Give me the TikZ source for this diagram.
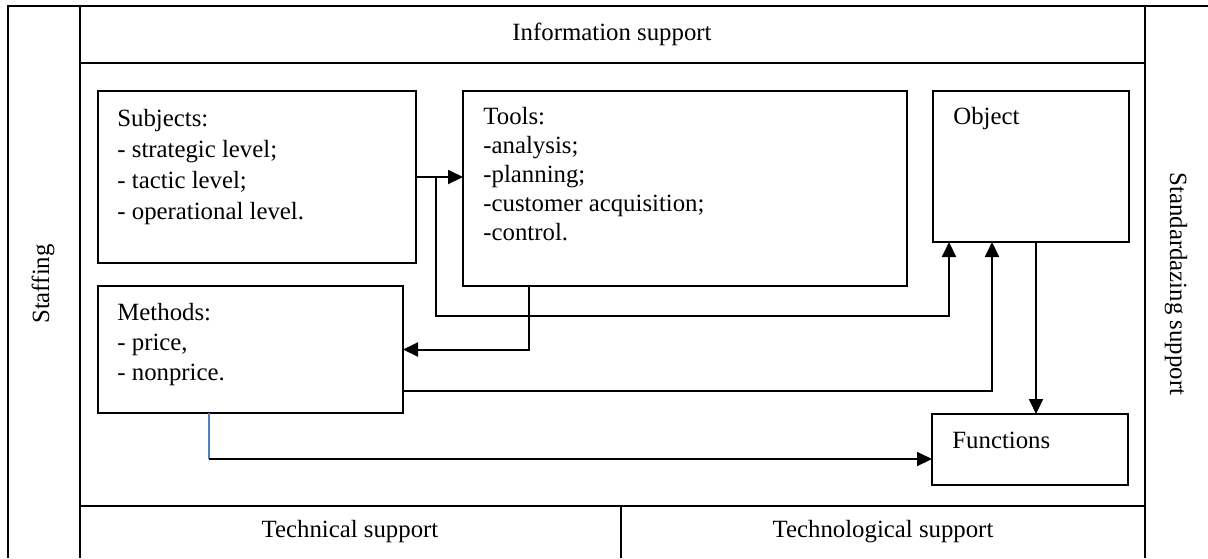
\documentclass[tikz,border=0pt]{standalone}
\usepackage{fontspec}
\setmainfont{Liberation Serif}
\usetikzlibrary{calc,fit,arrows.meta}
\definecolor{wordblue}{RGB}{79,129,189}

\begin{document}
\begin{tikzpicture}[x=0.5pt,y=-0.5pt,font=\fontsize{12.4}{15}\selectfont,
  box/.style={draw,line width=0.8pt,inner sep=0pt,outer sep=0pt},
  txt/.style={anchor=base west,align=left,inner sep=0pt},
  arr/.style={line width=1pt,-{Triangle[length=7.5pt,width=7pt]}}]

\useasboundingbox (0,0) rectangle (1208,558);

% table frame
\draw[line width=1pt] (8,558) -- (8,6) -- (1208,6);
\draw[line width=1pt] (1145,6) -- (1145,558);
\draw[line width=0.8pt] (80,6) -- (80,558);
\draw[line width=0.8pt] (80,63) -- (1145,63);
\draw[line width=0.8pt] (80,506) -- (1145,506);
\draw[line width=0.8pt] (621,506) -- (621,558);

\node (info) at (612,34) {Information support};
\node[rotate=90] (staff) at (43,284) {Staffing};
\node[rotate=-90] (std) at (1176,284) {Standardazing support};
\node (tech) at (350,532) {Technical support};
\node (techno) at (883,532) {Technological support};

% boxes
\node[box,fit={(98,91) (416,263)}] (subj) {};
\node[box,fit={(463,91) (907,286)}] (tools) {};
\node[box,fit={(933,91) (1129,242)}] (obj) {};
\node[box,fit={(98,286) (403,413)}] (meth) {};
\node[box,fit={(932,414) (1128,485)}] (func) {};

% base of a multi-line text is its last line
\node[txt,font=\fontsize{12.4}{15.5}\selectfont] (subjt) at ($(subj.north west)+(19,128)$)
  {Subjects:\\- strategic level;\\- tactic level;\\- operational level.};
\node[txt,font=\fontsize{12.4}{14.5}\selectfont] (toolst) at ($(tools.north west)+(20,149)$)
  {Tools:\\-analysis;\\-planning;\\-customer acquisition;\\-control.};
\node[txt] (objt) at ($(obj.north west)+(20,33)$) {Object};
\node[txt] (metht) at ($(meth.north west)+(19,94)$) {Methods:\\- price,\\- nonprice.};
\node[txt] (funct) at ($(func.north west)+(20,34)$) {Functions};

% connectors
\coordinate (j) at ($(subj.east)!0.43!(subj.east -| tools.west)$);
\coordinate (o) at ($(obj.south)+(5,0)$);
\coordinate (k) at ($(meth.south west)+(111,46)$);

\draw[arr] (subj.east) -- (subj.east -| tools.west);
\draw[arr] (j) |- ($(obj.south west)+(16,74)$) -- ($(obj.south west)+(16,0)$);
\draw[arr] ($(tools.south west)+(66,0)$) |- (meth.east);
\draw[arr] ($(meth.south east)+(0,-22)$) -| ($(obj.south west)+(59,0)$);
\draw[arr] (o) -- (o |- func.north);
\draw[line width=0.8pt,wordblue] ($(meth.south west)+(111,0)$) -- (k);
\draw[arr] (k) -- (k -| func.west);

\end{tikzpicture}
\end{document}
